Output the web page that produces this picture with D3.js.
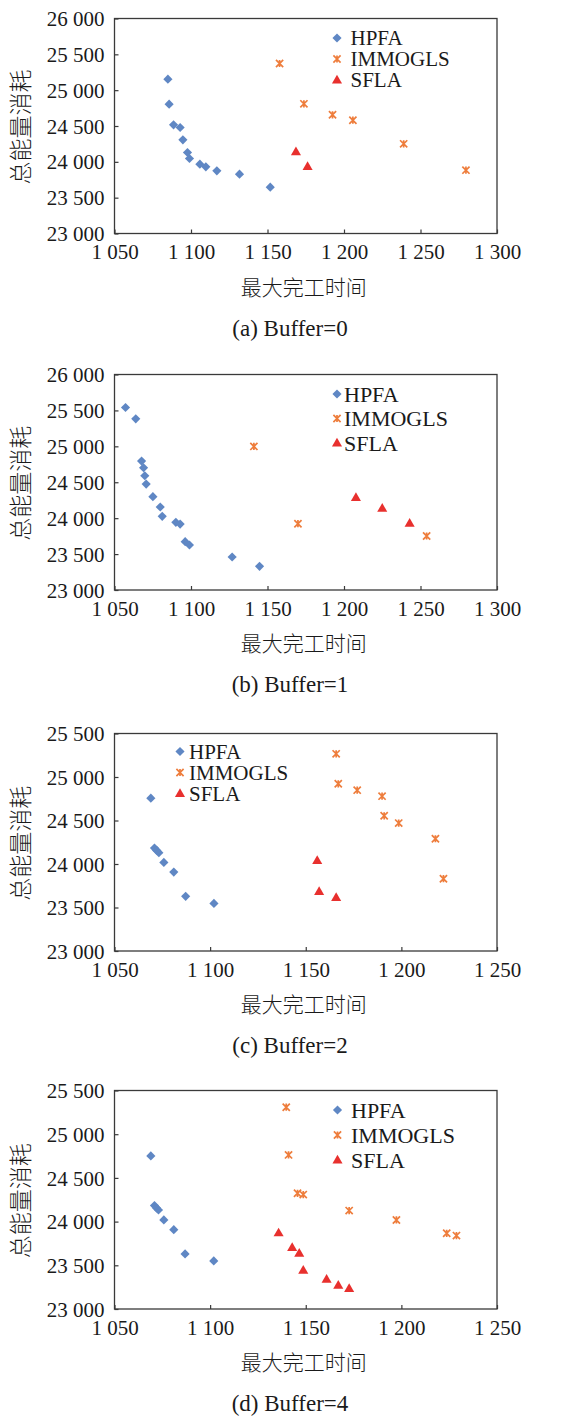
<!DOCTYPE html>
<html>
<head>
<meta charset="utf-8">
<script src="https://cdn.jsdelivr.net/npm/d3@7"></script>
<style>
  body { margin: 0; background: #fff; }
  svg text { fill: #1a1a1a; }
</style>
</head>
<body>
<div id="chart"></div>
<script>
// series names and captions
let seriesNames = ["HPFA", "IMMOGLS", "SFLA"];
let captions = ["(a) Buffer=0", "(b) Buffer=1", "(c) Buffer=2", "(d) Buffer=4"];
let xLabel = "最大完工时间";
let yLabel = "总能量消耗";

// tick values
let xTicksWide = [1050, 1100, 1150, 1200, 1250, 1300];
let xTicksNarrow = [1050, 1100, 1150, 1200, 1250];
let yTicksHigh = [23000, 23500, 24000, 24500, 25000, 25500, 26000];
let yTicksLow = [23000, 23500, 24000, 24500, 25000, 25500];

// (a) Buffer=0
let hpfaA = [[1084.9, 25153], [1085.7, 24805], [1088.6, 24516], [1092.9, 24479], [1094.7, 24307],
  [1097.7, 24130], [1099.0, 24047], [1105.8, 23967], [1109.7, 23930], [1116.9, 23874],
  [1131.7, 23828], [1151.8, 23647]];
let immoglsA = [[1157.9, 25372], [1173.8, 24809], [1192.5, 24656], [1205.8, 24581], [1239.0, 24251], [1279.7, 23884]];
let sflaA = [[1168.6, 24140], [1176.2, 23935]];

// (b) Buffer=1
let hpfaB = [[1057.2, 25541], [1063.9, 25383], [1067.7, 24795], [1069.0, 24702], [1069.8, 24591],
  [1070.7, 24475], [1075.1, 24299], [1079.9, 24155], [1081.2, 24025], [1090.1, 23942],
  [1092.9, 23918], [1096.2, 23673], [1099.0, 23626], [1126.9, 23459], [1144.8, 23330]];
let immoglsB = [[1141.1, 24999], [1169.9, 23923], [1254.0, 23752]];
let sflaB = [[1207.8, 24285], [1225.0, 24136], [1242.9, 23928]];

// (c) Buffer=2
let hpfaC = [[1069.0, 24757], [1070.9, 24183], [1072.1, 24156], [1073.2, 24129], [1075.8, 24018],
  [1081.0, 23907], [1087.2, 23628], [1102.0, 23547]];
let immoglsC = [[1165.9, 25266], [1167.0, 24922], [1176.9, 24849], [1189.9, 24780], [1191.0, 24554],
  [1198.6, 24470], [1217.8, 24290], [1222.0, 23831]];
let sflaC = [[1156.0, 24038], [1157.0, 23682], [1165.9, 23613]];

// (d) Buffer=4
let hpfaD = [[1069.0, 24752], [1070.9, 24183], [1072.0, 24156], [1073.0, 24133], [1075.8, 24019],
  [1081.0, 23908], [1086.9, 23630], [1101.9, 23550]];
let immoglsD = [[1139.8, 25309], [1141.0, 24763], [1145.7, 24324], [1148.7, 24309], [1172.7, 24126],
  [1197.4, 24019], [1223.7, 23866], [1228.8, 23840]];
let sflaD = [[1135.8, 23870], [1142.9, 23702], [1146.6, 23637], [1148.7, 23443], [1160.9, 23340],
  [1167.0, 23271], [1172.7, 23233]];

let colors = ["#5f87c4", "#ee7d3c", "#e8302e"];

let width = 569, height = 1419;
let svg = d3.select("#chart").append("svg")
  .attr("width", width).attr("height", height);

let left = 114.5, right = 497;

let panels = [
  { series: [hpfaA, immoglsA, sflaA], xDom: [1050, 1300], xTicks: xTicksWide, yDom: [23000, 26000], yTicks: yTicksHigh,
    top: 18.5, bottom: 233.5, legX: 337, legY: 38, legStep: 21, legFont: 21 },
  { series: [hpfaB, immoglsB, sflaB], xDom: [1050, 1300], xTicks: xTicksWide, yDom: [23000, 26000], yTicks: yTicksHigh,
    top: 374.5, bottom: 590, legX: 337, legY: 394, legStep: 24.5, legGap: 7 },
  { series: [hpfaC, immoglsC, sflaC], xDom: [1050, 1250], xTicks: xTicksNarrow, yDom: [23000, 25500], yTicks: yTicksLow,
    top: 733.5, bottom: 951, legX: 180, legY: 751.5, legStep: 21, legGap: 9, legFont: 21 },
  { series: [hpfaD, immoglsD, sflaD], xDom: [1050, 1250], xTicks: xTicksNarrow, yDom: [23000, 25500], yTicks: yTicksLow,
    top: 1090.5, bottom: 1309, legX: 337.5, legY: 1110, legStep: 25 }
];

let fmt = v => d3.format(",")(v).replace(/,/g, " ");
let serif = "'Liberation Serif', 'Times New Roman', serif";
let cjk = "'Noto Sans CJK SC', sans-serif";

// marker shapes
function drawMarker(g, k, x, y) {
  if (k === 0) {
    g.append("path")
      .attr("d", d3.symbol(d3.symbolSquare, 42)())
      .attr("transform", "translate(" + x + "," + y + ") rotate(45)")
      .attr("fill", colors[0]);
  } else if (k === 1) {
    let s = 3.6;
    g.append("path")
      .attr("d", "M" + (-s) + "," + (-s) + "L" + s + "," + s + "M" + s + "," + (-s) + "L" + (-s) + "," + s +
        "M0," + (-s) + "V" + s)
      .attr("transform", "translate(" + x + "," + y + ")")
      .attr("stroke", colors[1]).attr("stroke-width", 1.7).attr("fill", "none");
  } else {
    g.append("path")
      .attr("d", d3.symbol(d3.symbolTriangle, 44)())
      .attr("transform", "translate(" + x + "," + (y + 0.5) + ")")
      .attr("fill", colors[2]);
  }
}

panels.forEach(function(p, i) {
  let g = svg.append("g");
  let x = d3.scaleLinear().domain(p.xDom).range([left, right]);
  let y = d3.scaleLinear().domain(p.yDom).range([p.bottom, p.top]);

  // frame
  g.append("rect")
    .attr("x", left).attr("y", p.top)
    .attr("width", right - left).attr("height", p.bottom - p.top)
    .attr("fill", "none").attr("stroke", "#3a3a3a").attr("stroke-width", 1.3);

  let xAxis = g.append("g")
    .attr("transform", "translate(0," + p.bottom + ")")
    .call(d3.axisBottom(x).tickValues(p.xTicks).tickFormat(fmt).tickSizeInner(-4).tickSizeOuter(0).tickPadding(11));
  let yAxis = g.append("g")
    .attr("transform", "translate(" + left + ",0)")
    .call(d3.axisLeft(y).tickValues(p.yTicks).tickFormat(fmt).tickSizeInner(-4).tickSizeOuter(0).tickPadding(10));

  [xAxis, yAxis].forEach(function(a) {
    a.select(".domain").remove();
    a.selectAll("line").attr("stroke", "#3a3a3a").attr("stroke-width", 1.2);
    a.selectAll("text").attr("font-family", serif).attr("font-size", 21).attr("fill", "#1a1a1a");
  });
  xAxis.selectAll("text").attr("dy", "0.71em");
  yAxis.selectAll("text").attr("dy", "0.34em");

  // axis titles
  g.append("text")
    .attr("x", (left + right) / 2 - 2).attr("y", p.bottom + 61)
    .attr("text-anchor", "middle")
    .attr("font-family", cjk).attr("font-size", 21).attr("font-weight", 300)
    .text(xLabel);
  g.append("text")
    .attr("transform", "translate(29," + ((p.top + p.bottom) / 2 + 1) + ") rotate(-90)")
    .attr("text-anchor", "middle")
    .attr("font-family", cjk).attr("font-size", 23).attr("font-weight", 300)
    .text(yLabel);

  // caption
  g.append("text")
    .attr("x", 290).attr("y", p.bottom + 102)
    .attr("text-anchor", "middle")
    .attr("font-family", serif).attr("font-size", 23)
    .text(captions[i]);

  // points
  p.series.forEach(function(data, k) {
    let sg = g.append("g");
    data.forEach(function(d) {
      drawMarker(sg, k, x(d[0]), y(d[1]));
    });
  });

  // legend
  let gap = p.legGap || 13.5;
  seriesNames.forEach(function(name, k) {
    let ly = p.legY + k * p.legStep;
    drawMarker(g, k, p.legX, ly);
    g.append("text")
      .attr("x", p.legX + gap).attr("y", ly)
      .attr("dy", "0.35em")
      .attr("font-family", serif).attr("font-size", p.legFont || 22)
      .text(name);
  });
});
</script>
</body>
</html>
